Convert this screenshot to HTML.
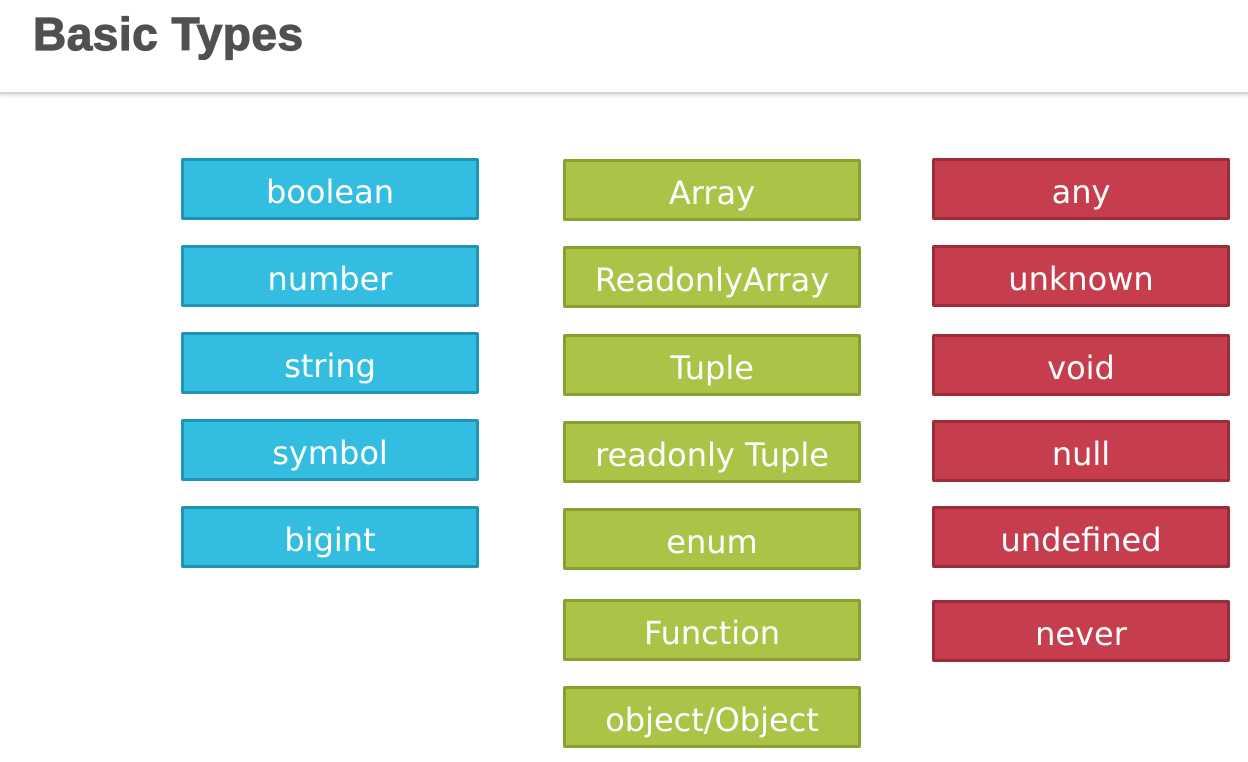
<!DOCTYPE html>
<html><head><meta charset="utf-8"><style>
html,body{margin:0;padding:0;}
body{width:1248px;height:762px;background:#fff;position:relative;overflow:hidden;font-family:"DejaVu Sans","Liberation Sans",sans-serif;}
.hdr{position:absolute;left:0;top:0;width:1248px;height:92px;background:#fff;border-bottom:2px solid #d4d4d4;box-shadow:0 2px 3px rgba(0,0,0,0.12);}
.title{position:absolute;left:33px;top:7px;font-family:"Liberation Sans",sans-serif;font-weight:bold;font-size:46px;color:#505050;-webkit-text-stroke:1.2px #505050;letter-spacing:0.5px;}
.b{position:absolute;width:292px;height:56px;border:3px solid;border-radius:2px;color:#fff;font-size:32px;line-height:62px;text-align:center;box-sizing:content-box;}
.c{background:#33bde0;border-color:#1d95b3;}
.g{background:#abc447;border-color:#87a030;}
.r{background:#c63d4d;border-color:#9c2c39;}
</style></head><body>
<div class="hdr"><div class="title">Basic Types</div></div>
<div class="b c" style="left:181px;top:158px">boolean</div>
<div class="b c" style="left:181px;top:245px">number</div>
<div class="b c" style="left:181px;top:332px">string</div>
<div class="b c" style="left:181px;top:419px">symbol</div>
<div class="b c" style="left:181px;top:506px">bigint</div>

<div class="b g" style="left:563px;top:159px">Array</div>
<div class="b g" style="left:563px;top:246px">ReadonlyArray</div>
<div class="b g" style="left:563px;top:334px">Tuple</div>
<div class="b g" style="left:563px;top:421px">readonly Tuple</div>
<div class="b g" style="left:563px;top:508px">enum</div>
<div class="b g" style="left:563px;top:599px">Function</div>
<div class="b g" style="left:563px;top:686px">object/Object</div>

<div class="b r" style="left:932px;top:158px">any</div>
<div class="b r" style="left:932px;top:245px">unknown</div>
<div class="b r" style="left:932px;top:334px">void</div>
<div class="b r" style="left:932px;top:420px">null</div>
<div class="b r" style="left:932px;top:506px">undefined</div>
<div class="b r" style="left:932px;top:600px">never</div>
</body></html>
